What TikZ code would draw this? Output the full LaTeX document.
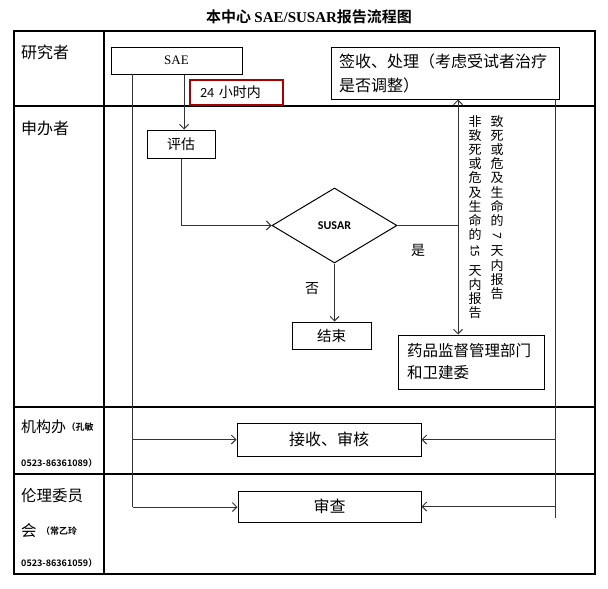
\documentclass[tikz,border=0pt]{standalone}
\usepackage{fontspec}
\usepackage{graphicx}
\setmainfont{Noto Sans CJK SC}[BoldFont={Noto Sans CJK SC Bold}]
\newfontfamily\serifl{Liberation Serif}
\newfontfamily\carl{Carlito}
\usetikzlibrary{shapes.geometric,arrows.meta,calc}
\newcommand\fs[2]{\fontsize{#1}{#2}\selectfont}
\begin{document}
\begin{tikzpicture}[x=1pt,y=-1pt,
  tbl/.style={line width=1.2pt},
  box/.style={draw, line width=1pt, inner sep=0pt},
  conn/.style={line width=0.9pt, draw=black!80},
  arr/.style={conn, -{Straight Barb[length=4.5pt,width=9pt]}},
  lbl/.style={inner sep=0pt, anchor=west, font=\fs{16}{20}},
  small/.style={inner sep=0pt, anchor=west, font=\bfseries\fs{9}{11}},
  vtext/.style={inner sep=0pt, anchor=north, align=center, font=\fs{13}{14.2}},
]
\useasboundingbox (0,0) rectangle (608,589);

% title
\node[inner sep=0pt, font=\bfseries\fs{15}{18}] (title) at (309,17) {本中心 {\serifl SAE/SUSAR}报告流程图};

% table
\draw[tbl] (14,31) rectangle (595,574);
\draw[tbl] (104,31) -- (104,574);
\draw[tbl] (14,106) -- (595,106);
\draw[tbl] (14,407) -- (595,407);
\draw[tbl] (14,474) -- (595,474);

% row labels
\node[lbl] (r1) at (21,52) {研究者};
\node[lbl] (r2) at (21,128) {申办者};
\node[lbl, font=\fs{15}{18}] (r3) at (21,427) {机构办};
\node[small] (r3a) at (r3.east) {（孔敏};
\node[small] (r3b) at (21,463) {0523-86361089）};
\node[lbl, font=\fs{15.5}{18}] (r4) at (21,496) {伦理委员};
\node[lbl, font=\fs{15.5}{18}] (r4c) at (21,531) {会};
\node[small] (r4a) at ([xshift=4pt]r4c.east) {（常乙玲};
\node[small] (r4b) at (21,563) {0523-86361059）};

% boxes
\node[box, minimum width=131, minimum height=27, font=\serifl\fs{13}{15}] (sae) at (176.5,60.5) {SAE};
\node[box, draw=red!65!black, line width=2pt, minimum width=93, minimum height=25, text width=73, align=left, font=\fs{14}{16}] (h24) at (236.5,92.5) {{\carl 24} 小时内};
\node[box, minimum width=228, minimum height=52, text width=212, align=left, font=\fs{16}{24}] (qs) at (445,73) {签收、处理（考虑受试者治疗\\是否调整）};
\node[box, minimum width=68, minimum height=28, font=\fs{14}{16}] (pg) at (181,144) {评估};
\node[draw, line width=1pt, diamond, aspect=1.67, inner sep=0pt, minimum width=125, minimum height=75, font=\carl\bfseries\fs{12}{14}] (dia) at (334.5,225.5) {SUSAR};
\node[box, minimum width=79, minimum height=27, font=\fs{14.5}{16}] (end) at (331.5,335.5) {结束};
\node[box, minimum width=146, minimum height=54, text width=128, align=left, font=\fs{15.5}{22}] (yp) at (471,362) {药品监督管理部门\\和卫建委};
\node[box, minimum width=184, minimum height=33, font=\fs{16}{18}] (jsh) at (329,439.5) {接收、审核};
\node[box, minimum width=183, minimum height=31, font=\fs{16}{18}] (sc) at (329.5,506.5) {审查};

% labels
\node[inner sep=0pt, font=\fs{14}{16}] (yes) at (418,250) {是};
\node[inner sep=0pt, font=\fs{14}{16}] (no) at (312,289) {否};

% vertical texts
\node[vtext] (vt1) at (475,115) {非\\致\\死\\或\\危\\及\\生\\命\\的\\[1pt]\rotatebox[origin=c]{-90}{\carl 15}\\[6pt]天\\内\\报\\告};
\node[vtext] (vt2) at (497,115) {致\\死\\或\\危\\及\\生\\命\\的\\[0pt]\rotatebox[origin=c]{-90}{\carl 7}\\[2pt]天\\内\\报\\告};

% connectors
\draw[arr] ([xshift=7.5pt]sae.south) -- ([xshift=7.5pt]sae.south |- pg.north);
\draw[arr] (pg.south) |- (dia.west);
\coordinate (vx) at (458,225.5);
\draw[conn] (dia.east) -- (vx);
\draw[arr] (vx) -- (vx |- qs.south);
\draw[arr] (vx) -- (vx |- yp.north);
\draw[arr] (dia.south) -- (dia.south |- end.north);

\coordinate (L0) at (132.5,74);
\coordinate (L2) at (132.5,507);
\draw[conn] (L0) -- (L2);
\draw[arr] (L0 |- jsh.west) -- (jsh.west);
\draw[arr] (L2) -- (L2 -| sc.west);

\coordinate (R0) at (555,99);
\coordinate (R2) at (555,518);
\draw[conn] (R0) -- (R2);
\draw[arr] (R0 |- jsh.east) -- (jsh.east);
\draw[arr] (R0 |- sc.east) -- (sc.east);
\end{tikzpicture}
\end{document}
